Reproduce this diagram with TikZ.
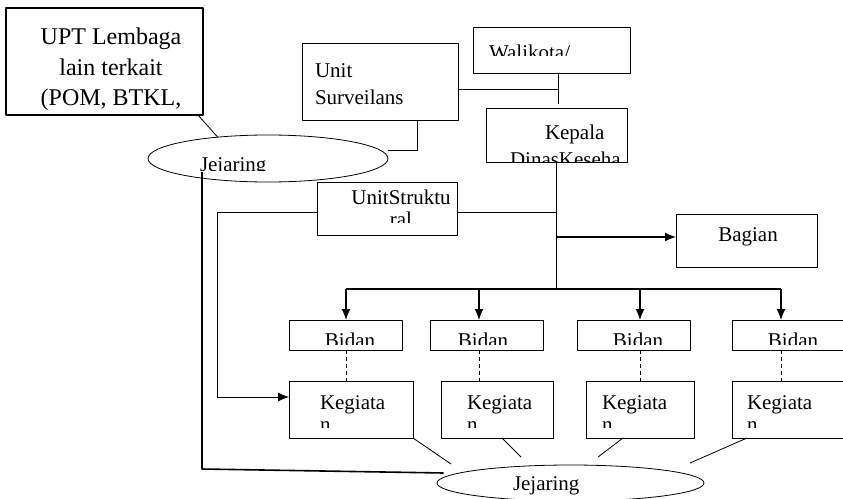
\documentclass[tikz,border=0pt]{standalone}
\usepackage{fontspec}
\setmainfont{Liberation Serif}
\usetikzlibrary{arrows.meta,shapes.geometric}

\newcommand{\teks}{\fontsize{21}{27}\selectfont}

\tikzset{
  kotak/.style={draw, line width=0.8pt, inner sep=0pt, outer sep=0pt, anchor=north west},
  elips/.style={draw, ellipse, line width=0.8pt, inner sep=0pt, outer sep=0pt},
  % text of a box, cut off at the bottom like in the original
  isi/.style n args={4}{path picture={
      \clip (path picture bounding box.north west) rectangle ([yshift=#1]path picture bounding box.south east);
      \node[shape=rectangle, draw=none, minimum width=0pt, minimum height=0pt, inner sep=0pt,
        anchor=north west, align=left, font=\teks, #2] at ([shift={(#3)}]path picture bounding box.north west) {#4};}},
  garis/.style={line width=0.8pt},
  panah/.style={line width=1.2pt, -{Latex[length=11pt,width=9pt]}},
  putus/.style={line width=1pt, dash pattern=on 4pt off 3pt},
}

\begin{document}
\begin{tikzpicture}[x=1pt, y=-1pt, line join=round]
\useasboundingbox (0,0) rectangle (843,498);

% top part
\node[kotak, line width=1.6pt, minimum width=197, minimum height=107,
  isi={0}{anchor=north, align=center, font=\fontsize{24}{30.5}\selectfont}{105,20}{UPT Lembaga\\lain terkait\\(POM, BTKL,}] (upt) at (6,8) {};
\node[kotak, minimum width=156, minimum height=77, isi={0}{}{13,21}{Unit\\Surveilans}] (surv) at (302,43) {};
\node[kotak, minimum width=157, minimum height=46, isi={18}{}{16,18}{Walikota/}] (wali) at (473,27) {};
\node[kotak, minimum width=141, minimum height=54, isi={0}{}{24,17}{\hspace*{35pt}Kepala\\DinasKeseha}] (kepala) at (486,108) {};
\node[kotak, minimum width=140, minimum height=53,
  isi={13}{anchor=north, align=center, font=\fontsize{21}{22}\selectfont}{84,8}{UnitStruktu\\ral}] (struk) at (317,182) {};
\node[kotak, minimum width=141, minimum height=53, isi={0}{anchor=north}{72,14}{Bagian}] (bagian) at (676,214) {};
\node[elips, minimum width=240, minimum height=47, isi={12}{}{52,23}{Jejaring}] (jej1) at (268,158.5) {};
\node[elips, minimum width=267, minimum height=36, isi={0}{}{76,12}{Jejaring}] (jej2) at (570.5,483) {};

% bidang and kegiatan
\foreach \bx/\ax/\tx/\kx/\kw/\ko [count=\i] in {289/346/350/289/124/31, 430/479/483/441/112/26, 577/640/638/586/108/16, 732/781/793/732/113/15}{
  \node[kotak, minimum width=113, minimum height=30, isi={6}{anchor=north}{\tx-\bx,13}{Bidan}] (bidan\i) at (\bx,320) {};
  \node[kotak, minimum width=\kw, minimum height=57, isi={11}{font=\fontsize{21}{22}\selectfont}{\ko,15}{Kegiata\\n}] (keg\i) at (\kx,381) {};
  \coordinate (atas\i) at (\ax,289);
  \draw[panah] (atas\i) -- (atas\i |- bidan\i.north);
  \draw[putus] (atas\i |- bidan\i.south) -- (atas\i |- keg\i.north);
}

% lines
\coordinate (simpul) at ([xshift=6.5,yshift=-16]wali.south);
\coordinate (struk kanan) at ([yshift=-4]struk.east);
\coordinate (struk kiri) at ([yshift=-4]struk.west);
\coordinate (bagian kiri) at ([yshift=3.5]bagian.west);
\path (kepala.south) ++(0,127) coordinate (bus);
\draw[garis] ([xshift=-5]upt.south east) -- (jej1.157);
\draw[garis] ([xshift=-41]surv.south east) |- ([yshift=8.5]jej1.east);
\draw[garis] ([xshift=6.5]wali.south) -- ([xshift=1.5,yshift=4]kepala.north);
\draw[garis] ([yshift=-7.5]surv.east) -- (simpul);
\draw[line width=1.2pt] (kepala.south) -- (bus);
\draw[line width=1.2pt] (atas1) -- (atas4);
\draw[garis] (struk kanan) -- (struk kanan -| kepala.south);
\draw[panah] (bagian kiri -| kepala.south) -- (bagian kiri);
\draw[garis, -{Latex[length=11pt,width=9pt]}] (struk kiri) -- ++(-100,0) |- ([yshift=12.5]keg1.west);

\draw[garis] (keg1.south east) -- ++(38,26);
\draw[garis] ([xshift=5]keg2.south) -- ++(19,19);
\draw[garis] ([xshift=-17]keg3.south) -- ++(-25,19);
\draw[garis] ([xshift=15]keg4.south west) -- ++(-57,25);
\draw[line width=1.6pt] ([shift={(-66,13.5)}]jej1.center) -- ++(0,297) -- ([shift={(-127,-10)}]jej2.center);
\end{tikzpicture}
\end{document}
